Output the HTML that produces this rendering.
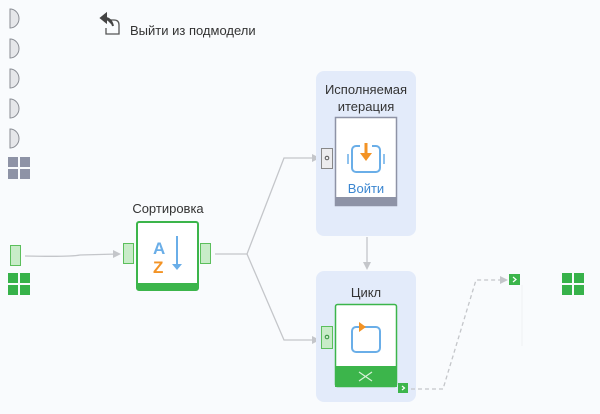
<!DOCTYPE html>
<html><head><meta charset="utf-8"><style>
body{margin:0;background:#f9fbfd;}
svg{display:block;font-family:"Liberation Sans","DejaVu Sans",sans-serif;}
</style></head><body>
<svg width="600" height="414" viewBox="0 0 600 414" xmlns="http://www.w3.org/2000/svg">
<rect width="600" height="414" fill="#f9fbfd"/>
<!-- half circles -->
<g fill="#e6e7ea" stroke="#8a8d94" stroke-width="1">
<path d="M10 9 A9 9.5 0 0 1 10 28 Z"/>
<path d="M10 39 A9 9.5 0 0 1 10 58 Z"/>
<path d="M10 69 A9 9.5 0 0 1 10 88 Z"/>
<path d="M10 99 A9 9.5 0 0 1 10 118 Z"/>
<path d="M10 129 A9 9.5 0 0 1 10 148 Z"/>
</g>
<g fill="#8e93a6">
<rect x="8" y="157" width="10" height="10"/><rect x="20" y="157" width="10" height="10"/>
<rect x="8" y="169" width="10" height="10"/><rect x="20" y="169" width="10" height="10"/>
</g>
<!-- exit -->
<path d="M106 20 L114 20 Q119 20 119 25 L119 34 L106 34 L106 28" fill="none" stroke="#555" stroke-width="1.3"/>
<path d="M101 18 L106 14 L106 22 Z M105 18 Q111 18 113 26" fill="#444" stroke="#444" stroke-width="2"/>
<text x="130" y="35" font-size="13" fill="#333">Выйти из подмодели</text>
<!-- left source -->
<rect x="10.5" y="245.5" width="10" height="20" fill="#c8ecc8" stroke="#5cbf5c"/>
<g fill="#37b24a">
<rect x="8" y="273" width="10" height="10"/><rect x="20" y="273" width="10" height="10"/>
<rect x="8" y="285" width="10" height="10"/><rect x="20" y="285" width="10" height="10"/>
</g>
<g stroke="#c4c6ca" stroke-width="1.3" fill="none">
<path d="M25 256 Q70 257 80 255 L118 254"/>
<path d="M215 254 L247 254 L284 158 L315 158"/>
<path d="M247 254 L284 340 L315 340"/>
<path d="M367 237 L367 266"/>
</g>
<g fill="#c4c6ca">
<path d="M121 254 L113 250 L113 258 Z"/>
<path d="M320 158 L312 154 L312 162 Z"/>
<path d="M320 340 L312 336 L312 344 Z"/>
<path d="M367 270 L363 262 L371 262 Z"/>
</g>
<!-- sort node -->
<text x="168" y="213" font-size="13" fill="#333" text-anchor="middle">Сортировка</text>
<rect x="123.5" y="243.5" width="10" height="20" fill="#c8ecc8" stroke="#5cbf5c"/>
<rect x="200.5" y="243.5" width="10" height="20" fill="#c8ecc8" stroke="#5cbf5c"/>
<rect x="137" y="222" width="61" height="68" rx="2" fill="#fff" stroke="#3cb54b" stroke-width="2"/>
<rect x="137" y="283" width="61" height="7" fill="#3cb54b"/>
<text x="153" y="254" font-size="17" font-weight="bold" fill="#6aaee8">A</text>
<text x="153" y="273" font-size="17" font-weight="bold" fill="#f39325">Z</text>
<path d="M177 236 L177 267" stroke="#6aaee8" stroke-width="2"/>
<path d="M172 264 L177 270 L182 264 Z" fill="#6aaee8"/>
<!-- upper container -->
<rect x="316" y="71" width="100" height="165" rx="8" fill="#e3ebfa"/>
<text x="366" y="94" font-size="13" fill="#333" text-anchor="middle">Исполняемая</text>
<text x="366" y="111" font-size="13" fill="#333" text-anchor="middle">итерация</text>
<rect x="321.5" y="148.5" width="11" height="20" fill="#ececee" stroke="#888"/>
<circle cx="327" cy="158" r="1.8" fill="none" stroke="#555"/>
<rect x="335.5" y="117.5" width="61" height="88" fill="#fff" stroke="#8e93a6" stroke-width="1.5"/>
<rect x="335" y="197" width="62" height="9" fill="#8e93a6"/>
<rect x="352" y="146" width="28" height="26" rx="4" fill="none" stroke="#6aaee8" stroke-width="2"/>
<rect x="360" y="144" width="12" height="4" fill="#fff"/>
<path d="M348 154 L348 164 M384 154 L384 164" stroke="#6aaee8" stroke-width="1.5"/>
<path d="M366 143 L366 156" stroke="#f39325" stroke-width="3"/>
<path d="M360 153 L366 161 L372 153 Z" fill="#f39325"/>
<text x="366" y="193" font-size="13" fill="#3b86d0" text-anchor="middle">Войти</text>
<!-- lower container -->
<rect x="316" y="271" width="100" height="131" rx="8" fill="#e3ebfa"/>
<text x="366" y="297" font-size="13" fill="#333" text-anchor="middle">Цикл</text>
<rect x="321.5" y="326.5" width="11" height="22" fill="#c8ecc8" stroke="#5cbf5c"/>
<circle cx="327" cy="337" r="1.8" fill="none" stroke="#2f8f3a"/>
<rect x="335.5" y="304.5" width="61" height="82" rx="2" fill="#fff" stroke="#3cb54b" stroke-width="1.5"/>
<rect x="335" y="366" width="62" height="21" fill="#3cb54b"/>
<path d="M359 381 L372 372 M359 372 L372 381" stroke="#d8f2d8" stroke-width="1.2"/>
<rect x="352" y="327" width="28" height="25" rx="4" fill="none" stroke="#6aaee8" stroke-width="2"/>
<path d="M359 322 L366 327 L359 332 Z" fill="#f39325"/>
<rect x="398" y="383" width="10" height="10" fill="#3cb54b"/>
<path d="M402 386 L404.5 388 L402 390" stroke="#fff" stroke-width="1.2" fill="none"/>
<!-- dashed -->
<path d="M411 389 L443 389 L476 280 L503 280" stroke="#c4c6ca" stroke-width="1.3" stroke-dasharray="4,3" fill="none"/>
<path d="M508 280 L500 276 L500 284 Z" fill="#c4c6ca"/>
<rect x="509" y="274" width="11" height="11" fill="#3cb54b"/>
<path d="M513 277 L516 279.5 L513 282" stroke="#fff" stroke-width="1.2" fill="none"/>
<path d="M522 285 L522 346" stroke="#eef0f2" stroke-width="1"/>
<g fill="#37b24a">
<rect x="562" y="273" width="10" height="10"/><rect x="574" y="273" width="10" height="10"/>
<rect x="562" y="285" width="10" height="10"/><rect x="574" y="285" width="10" height="10"/>
</g>
</svg>
</body></html>
